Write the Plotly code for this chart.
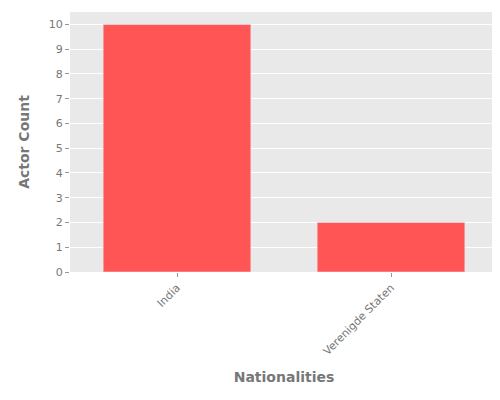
import plotly.graph_objects as go

nationalities = ["India", "Verenigde Staten"]
actor_counts = [10, 2]

fig = go.Figure(go.Bar(x=nationalities, y=actor_counts, marker_color="#FF5555", width=0.69))

fig.update_layout(
    width=500, height=400,
    margin=dict(l=62, r=10, t=4, b=136),
    plot_bgcolor="#E9E9E9", paper_bgcolor="white",
    font=dict(family="DejaVu Sans", color="#777777", size=11),
    showlegend=False,
)
fig.update_xaxes(title=dict(text="<b>Nationalities</b>", font=dict(size=14)), tickangle=-45,
                 ticks="outside", tickcolor="#999999", ticklen=4, showgrid=False)
fig.update_yaxes(title=dict(text="<b>Actor Count</b>", font=dict(size=14)), range=[0, 10.5], dtick=1,
                 gridcolor="white", ticks="outside", tickcolor="#999999", ticklen=4, zeroline=False)

fig.write_html("out.html")
